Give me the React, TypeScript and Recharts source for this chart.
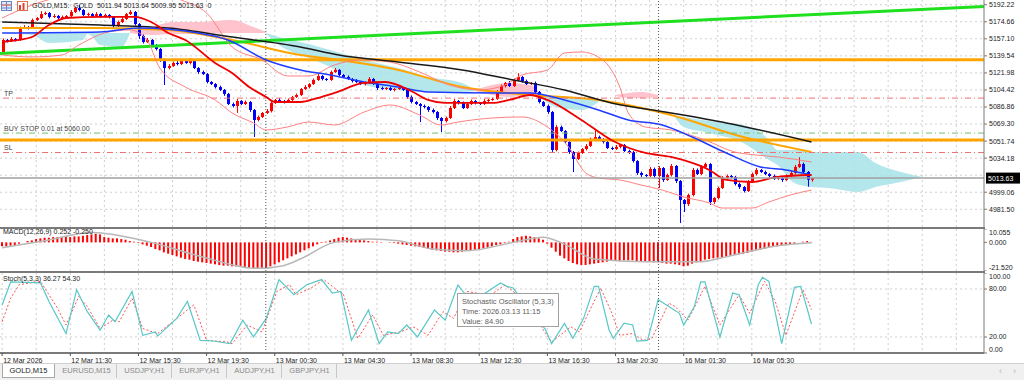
import React from 'react'
import { ComposedChart, Bar, Line, Area, XAxis, YAxis, CartesianGrid, ReferenceLine } from 'recharts'

const FONT = '"Liberation Sans", Arial, sans-serif'

// GOLD M15, bar 0 = first bar on screen
const firstOpen = 5143.5
const closes = [
  5155.9, 5154.8, 5156.9, 5155.9, 5168.2, 5169.2, 5168.2, 5176.5, 5178.5, 5182.6,
  5183.7, 5179.6, 5180.6, 5178.5, 5179.6, 5180.6, 5184.7, 5188.8, 5186.8, 5181.6,
  5182.6, 5180.6, 5182.6, 5179.6, 5181.6, 5179.6, 5170.3, 5174.4, 5177.5, 5182.6,
  5184.7, 5172.3, 5160.0, 5153.8, 5155.9, 5150.7, 5146.6, 5135.3, 5127.0, 5129.1,
  5132.2, 5131.1, 5134.2, 5132.2, 5135.3, 5127.0, 5122.9, 5120.8, 5112.6, 5110.5,
  5107.4, 5104.4, 5100.3, 5089.9, 5087.9, 5093.0, 5089.9, 5092.0, 5083.8, 5073.5,
  5076.6, 5080.7, 5082.7, 5091.0, 5094.1, 5093.0, 5092.0, 5094.1, 5097.2, 5099.2,
  5105.4, 5107.4, 5110.5, 5114.7, 5118.8, 5115.7, 5114.7, 5122.9, 5125.0, 5119.8,
  5117.8, 5115.7, 5113.6, 5112.6, 5110.5, 5111.6, 5115.7, 5110.5, 5106.4, 5105.4,
  5106.4, 5104.4, 5105.4, 5106.4, 5104.4, 5097.2, 5092.0, 5089.9, 5087.9, 5086.9,
  5083.8, 5081.7, 5075.5, 5072.4, 5075.5, 5085.8, 5093.0, 5091.0, 5085.8, 5089.9,
  5093.0, 5091.0, 5089.9, 5093.0, 5094.1, 5095.1, 5102.3, 5108.5, 5111.6, 5108.5,
  5114.7, 5117.8, 5113.6, 5110.5, 5111.6, 5102.3, 5092.0, 5087.9, 5081.7, 5042.6,
  5066.2, 5062.1, 5050.8, 5040.5, 5033.3, 5039.5, 5043.6, 5046.7, 5053.9, 5055.9,
  5053.9, 5050.8, 5044.6, 5043.6, 5045.7, 5047.7, 5041.5, 5040.5, 5031.2, 5018.9,
  5016.8, 5015.8, 5023.0, 5015.8, 5024.0, 5011.7, 5016.8, 5026.1, 5010.6, 4991.1,
  4986.9, 4996.2, 5022.0, 5017.8, 5025.1, 5028.1, 4989.0, 4993.1, 5003.4, 5013.7,
  5015.8, 5014.8, 5007.5, 5004.4, 5000.3, 5009.6, 5017.8, 5022.0, 5019.9, 5017.8,
  5015.8, 5012.7, 5013.7, 5011.7, 5015.8, 5018.9, 5025.1, 5028.1, 5019.9, 5011.94,
  5013.63,
]
// wick lengths above / below the body
const wickHi = [
  1.5, 1, 2, 1, 1.5, 2, 1, 1.5, 1, 3,
  1.5, 1, 2, 1, 1.5, 1, 2, 1.5, 3, 1,
  1.5, 1, 2, 1, 1.5, 1, 1, 1.5, 2, 1,
  2, 1, 1, 1.5, 2, 1, 1, 1, 1.5, 2,
  1.5, 2, 1, 1.5, 2, 1, 1, 1.5, 1, 1,
  1, 1.5, 1, 1, 1.5, 2, 1, 1.5, 1, 1,
  1.5, 1, 2, 1.5, 1, 2, 1, 1.5, 1, 1.5,
  1, 2, 1, 1.5, 2, 1, 1, 1.5, 2, 1,
  1, 1.5, 1, 2, 1, 1.5, 2, 1, 1, 1.5,
  1, 1.5, 1, 2, 1, 1, 1.5, 1, 1, 1.5,
  1, 1.5, 1, 1, 1.5, 2, 2, 1, 1.5, 1,
  1.5, 1, 1, 2, 1, 1.5, 2, 1.5, 1, 2,
  1.5, 4, 1, 1.5, 1, 1.5, 1, 1, 1.5, 1,
  2, 1.5, 1, 1, 1, 1.5, 1, 2, 1.5, 7,
  1.5, 1, 1, 1.5, 2, 1, 1, 1.5, 1, 1,
  1.5, 1, 2, 1.5, 2, 1, 1.5, 2, 1, 1,
  1, 1.5, 2, 1.5, 2, 1.5, 1, 1, 1.5, 2,
  1.5, 1, 1, 1.5, 1, 2, 1.5, 2, 1, 1.5,
  1, 1.5, 1, 1, 1.5, 2, 2, 7, 1.5, 1,
  0.01,
]
const wickLo = [
  2, 1.5, 1, 1.5, 1, 1, 1.5, 1, 1, 1,
  1, 1.5, 1, 1, 1.5, 1, 1, 1, 1.5, 1,
  1, 1.5, 1, 1, 1, 1.5, 2, 1, 1, 1,
  1, 1.5, 3, 1.5, 1, 2, 1.5, 2, 17.5, 1.5,
  1, 1.5, 1, 1, 1.5, 1, 2, 1, 1.5, 1,
  1.5, 1, 2, 1, 1.5, 7.2, 1, 1, 2, 17.5,
  1.5, 1, 1, 1.5, 1, 1, 1.5, 1, 1, 1,
  1, 1, 1.5, 1, 1, 1.5, 1, 1, 1, 1.5,
  1, 1, 1.5, 1, 1, 1.5, 1, 1, 2, 1,
  1, 1, 1.5, 1, 1, 2, 1.5, 1, 16.5, 1.5,
  2, 1.5, 2, 11.3, 1.5, 1, 1, 1.5, 1, 1,
  1, 1.5, 1, 1, 1.5, 1, 1, 1, 1.5, 1,
  1, 1, 1.5, 1, 1, 1.5, 1.5, 1, 2, 2,
  1.5, 1, 1.5, 2, 13.4, 1, 1, 1.5, 1, 1,
  1, 1.5, 1, 1, 1, 1.5, 1, 2, 1.5, 2,
  2, 1.5, 1, 2, 12.4, 2, 1, 1.5, 2, 23.7,
  8.2, 2, 1.5, 1, 1, 1.5, 3, 2, 1.5, 1,
  1, 1.5, 1.5, 2, 1.5, 1, 1, 1.5, 1, 1,
  1.5, 1, 1, 2, 1, 1, 1.5, 1, 1, 7.2,
  1.99,
]

// indicator lines, [bar, price]
const redMA = [[0, 5153.8], [4, 5155.9], [7, 5158.9], [11, 5171.3], [15, 5178.5], [23, 5179.6], [31, 5179.6], [35, 5174.4], [39, 5163.1], [43, 5155.9], [50, 5132.2], [54, 5121.9], [58, 5107.4], [62, 5097.2], [64, 5092.0], [70, 5092.0], [74, 5096.1], [78, 5101.3], [85, 5111.6], [90, 5112.6], [96, 5103.3], [100, 5094.1], [104, 5091.0], [115, 5091.0], [119, 5094.1], [124, 5099.2], [128, 5094.1], [136, 5073.5], [143, 5052.9], [151, 5039.5], [157, 5035.4], [162, 5029.2], [166, 5022.0], [170, 5011.7], [176, 5009.6], [182, 5014.8], [190, 5016.8]]
const blueMA = [[0, 5163.1], [23, 5164.1], [32, 5168.2], [46, 5163.1], [53, 5155.9], [62, 5135.3], [70, 5125.0], [77, 5119.8], [85, 5112.6], [93, 5107.4], [100, 5102.3], [117, 5101.3], [124, 5101.3], [132, 5094.1], [140, 5083.8], [147, 5073.5], [155, 5068.3], [162, 5055.9], [170, 5039.5], [178, 5025.1], [184, 5022.0], [190, 5016.8]]
const blackMA = [[0, 5174.4], [23, 5171.3], [39, 5168.2], [54, 5158.9], [70, 5148.7], [79, 5140.4], [93, 5133.2], [108, 5125.0], [120, 5114.7], [132, 5104.4], [143, 5091.0], [157, 5080.7], [170, 5070.4], [190, 5050.8]]
const orangeMA = [[0, 5168.2], [23, 5168.2], [39, 5166.2], [54, 5155.9], [70, 5140.4], [79, 5135.3], [93, 5125.0], [108, 5107.4], [124, 5099.2], [140, 5094.1], [157, 5078.6], [174, 5055.9], [190, 5040.5]]
const bandUpper = [[0, 5178.5], [7, 5191.9], [15, 5202.2], [25, 5212.5], [35, 5207.4], [42, 5197.1], [48, 5183.7], [54, 5148.7], [61, 5135.3], [67, 5118.8], [72, 5118.8], [78, 5130.1], [84, 5135.3], [91, 5133.2], [98, 5122.9], [105, 5109.5], [112, 5104.4], [118, 5109.5], [122, 5119.8], [128, 5124.9], [132, 5142.5], [136, 5143.5], [141, 5135.3], [145, 5107.4], [147, 5080.7], [151, 5066.3], [157, 5063.2], [165, 5052.9], [172, 5040.5], [177, 5037.4], [182, 5035.4], [190, 5030.2]]
const bandLower = [[0, 5140.4], [7, 5138.4], [14, 5140.4], [18, 5150.7], [25, 5164.1], [30, 5166.2], [34, 5155.9], [37, 5127.0], [43, 5107.4], [50, 5094.1], [54, 5080.7], [59, 5070.4], [62, 5063.2], [67, 5066.3], [72, 5071.4], [78, 5068.3], [85, 5081.7], [91, 5088.9], [98, 5078.6], [103, 5068.3], [107, 5071.4], [115, 5075.5], [122, 5076.6], [128, 5066.3], [133, 5045.6], [137, 5018.9], [140, 5013.7], [145, 5011.7], [150, 5006.5], [155, 5001.3], [160, 4994.2], [166, 4988.0], [169, 4982.8], [176, 4982.8], [180, 4989.0], [185, 4996.2], [190, 5001.3]]

// ichimoku cloud pieces, [bar, low, high]
const cloudCyan1 = [[4, 5162.1, 5163.1], [7, 5161.0, 5163.1], [11, 5152.8, 5163.1], [19, 5155.9, 5163.1], [20, 5162.1, 5163.1], [21, 5160.0, 5163.1], [23, 5150.7, 5163.1], [28, 5148.7, 5163.1], [30, 5162.6, 5163.1]]
const cloudPink1 = [[30, 5163.1, 5165.1], [35, 5161.0, 5169.2], [40, 5162.1, 5174.4], [46, 5162.1, 5174.4], [54, 5163.1, 5176.5], [59, 5163.1, 5169.2], [62, 5163.1, 5164.1]]
const cloudCyan2 = [[62, 5162.1, 5163.1], [65, 5150.7, 5158.9], [72, 5137.3, 5151.7], [77, 5128.1, 5145.6], [85, 5109.5, 5135.3], [93, 5104.4, 5127.0], [100, 5102.3, 5117.8], [108, 5102.3, 5111.6], [111, 5103.3, 5104.4]]
const cloudPink2 = [[111, 5103.3, 5104.4], [115, 5099.2, 5109.5], [119, 5097.2, 5111.6], [124, 5099.2, 5109.5], [126, 5099.2, 5102.3]]
const cloudCyan3 = [[126, 5097.2, 5099.2], [131, 5085.8, 5097.2], [136, 5083.8, 5097.2], [140, 5092.0, 5094.1]]
const cloudPink3 = [[144, 5098.2, 5099.2], [147, 5096.1, 5101.3], [150, 5096.1, 5102.3], [154, 5097.2, 5099.2]]
const cloudCyan4 = [[158, 5075.5, 5077.6], [160, 5066.2, 5076.6], [166, 5060.1, 5072.4], [174, 5049.8, 5068.3], [180, 5032.2, 5052.9], [182, 5027.2, 5042.6], [186, 5008.6, 5042.6], [190, 5004.4, 5040.5], [194, 5003.4, 5040.5], [201, 4999.3, 5040.5], [205, 5004.4, 5029.2], [211, 5009.6, 5019.9], [216, 5014.8, 5014.8]]

// objects on the chart
const trendStart = 5142.0
const trendEnd = 5190.4
const levelHigh = 5135.5
const levelLow = 5052.8
const tpPrice = 5096.0
const buyStop = 5060.0
const slPrice = 5040.0
const lastPrice = 5013.63

const macdHist = [
  -3, -3, -2.5, -2, -1, 0, 1, 1.5,
  2.5, 3, 3.5, 3.5, 4, 4, 4, 4.5,
  4, 4.5, 4.5, 5, 5.5, 6, 6.5, 6,
  4, 3.5, 3, 3, 2.5, 2, 1, 0.5,
  -0.5, -1.5, -2.5, -3.5, -5, -6, -7.5, -8.5,
  -9.5, -10.5, -11.5, -12.5, -13, -14, -14.5, -15,
  -15.5, -16, -16.5, -17, -17.5, -17.5, -18, -18,
  -18.5, -19, -19, -19.5, -20, -20, -19.5, -18,
  -16.5, -15, -13.5, -12, -10.5, -9, -7.5, -6,
  -4.5, -3, -1.5, -0.5, 0.5, 1.5, 2.5, 3.5,
  4, 3.5, 3, 2.5, 2, 1.5, 1, 0.5,
  0.5, 0.3, 0, -0.3, -0.5, -1, -1.5, -2,
  -2.5, -3, -3.5, -4, -5, -5.5, -6, -6.5,
  -7, -7, -7.5, -7.5, -7, -6.5, -6, -5.5,
  -5, -4.5, -4, -3, -2, -1.5, -0.5, 0.5,
  2.5, 4, 4.5, 5, 4.5, 4, 3, 2,
  -1, -4, -7, -10, -12, -14, -15.5, -16.5,
  -17, -17, -16.5, -16, -15.5, -15, -14.5, -14,
  -14, -14, -13.5, -13.5, -13.5, -14, -14, -14.5,
  -14.5, -15, -15, -15.5, -16, -16, -16.5, -17,
  -18, -17.5, -16, -15, -14, -13, -12.5, -12,
  -11.5, -11, -10.5, -10, -9.5, -9, -8.5, -8,
  -7, -6, -5.5, -5, -4, -3.5, -3, -2.5,
  -2, -1.5, -1, 0, 0.5, 1, 0.25,
]
const macdSignal = [[0, -4], [10, 1.2], [21, 7.5], [35, 0], [46, -10], [60, -19.5], [66, -17.5], [70, -12.5], [78, 0], [86, 2.5], [93, 1.2], [101, -5], [109, -6.3], [120, 0], [127, 3.8], [132, -1.3], [139, -12.5], [151, -14.5], [164, -14.5], [171, -10], [182, -2.5], [190, -0.25]]

const stochMain = [[0, 60], [2, 88.8], [9, 87.6], [11, 64.4], [15, 24.2], [17.5, 79.1], [20, 51.7], [23, 28.5], [25, 47.5], [26.5, 39.1], [30.5, 77], [33, 22.2], [36, 26.4], [36.5, 21.1], [41, 43.3], [43.5, 64.4], [46.5, 15.8], [49.5, 15], [53.5, 11.7], [56.5, 41.1], [59, 20.1], [62, 43.3], [65, 91.8], [68.5, 72.8], [71.5, 85.4], [75, 91.8], [77.5, 74.9], [79.5, 77], [82, 15.8], [86, 53.8], [88.5, 11.7], [90.5, 26.4], [93, 24.2], [95, 35], [97.5, 20.1], [101.5, 53.8], [104, 41.1], [107, 84.9], [108.5, 74.9], [112, 70], [117, 87.6], [118.5, 83.3], [120, 81.2], [124, 50], [127.5, 30], [129, 11.7], [132, 37], [134, 18.3], [136.5, 43.3], [139, 83.3], [140, 83.3], [142.5, 28.5], [143.5, 18.3], [146, 37.2], [148, 35.1], [149, 15], [151.5, 15.8], [154, 66.5], [156.5, 58.1], [159, 49.6], [160, 35], [162.5, 58], [164, 88.8], [165, 88.8], [168.5, 20.1], [171.5, 74.9], [173, 72.8], [175.5, 35], [177.5, 85.4], [178.5, 94.6], [180, 89.5], [183, 11.7], [186, 82], [187.5, 83.3], [190, 36.27]]
const stochSignal = [[0, 39], [2, 68.5], [4, 85.4], [9, 89.6], [13, 56], [15, 35], [18, 70.7], [20, 58.1], [23, 30.6], [26, 41.1], [27.5, 39.1], [30.5, 68.5], [33, 30.6], [36.5, 24.3], [43.5, 53.8], [45, 60.1], [48, 15.8], [53, 13.7], [54, 11.7], [57.5, 35], [61, 26.4], [64.5, 77], [67.5, 85.4], [69, 72.8], [72.5, 81.2], [75.5, 91.8], [79, 77], [80, 74.9], [83.5, 18.3], [87, 47.5], [89.5, 22.2], [93.5, 26.4], [96.5, 32.7], [100, 22.2], [103.5, 51.7], [106, 43.3], [109, 77], [114.5, 72], [118, 85], [120, 77], [126, 37], [129, 13.8], [133.5, 32.7], [135.5, 26.4], [140.5, 81.2], [143, 51.7], [145, 22.2], [148, 24.3], [150.5, 15.8], [152.5, 17.9], [156.5, 62.3], [158, 58.1], [161, 41.1], [165, 83.3], [168.5, 35], [173, 72.8], [175.5, 49.6], [179, 89.6], [181.5, 64.4], [184, 22.2], [188, 79.1], [190, 54.3]]

const priceTicks = [5192.22, 5174.66, 5157.10, 5139.54, 5121.98, 5104.42, 5086.86, 5069.30, 5051.74, 5034.18, 4999.06, 4981.50]
const priceGrid = [5192.22, 5174.66, 5157.10, 5139.54, 5121.98, 5104.42, 5086.86, 5069.30, 5051.74, 5034.18, 5016.62, 4999.06, 4981.50]
const timeTicks = [0, 16, 32, 48, 64, 80, 96, 112, 128, 144, 160, 176]
const timeLabels = ['12 Mar 2026', '12 Mar 11:30', '12 Mar 15:30', '12 Mar 19:30', '13 Mar 00:30', '13 Mar 04:30', '13 Mar 08:30', '13 Mar 12:30', '13 Mar 16:30', '13 Mar 20:30', '16 Mar 01:30', '16 Mar 05:30']
const separators = [61.9, 154.1]
const tabs = ['GOLD,M15', 'EURUSD,M15', 'USDJPY,H1', 'EURJPY,H1', 'AUDJPY,H1', 'GBPJPY,H1']

const X_DOMAIN: [number, number] = [-0.5, 230.5]
const gridX = Array.from({ length: 29 }, (_, k) => k * 8)
const M = { top: 0, right: 0, bottom: 0, left: 0 }

const candles = closes.map((c, i) => {
  const o = i === 0 ? firstOpen : closes[i - 1]
  const h = Math.max(o, c) + wickHi[i]
  const l = Math.min(o, c) - wickLo[i]
  return { i, o, c, h, l, range: [l, h] }
})
const macdData = macdHist.map((h, i) => ({ i, h }))
const pts = (a: number[][]) => a.map(([i, v]) => ({ i, v }))
const rng = (a: number[][]) => a.map(([i, lo, hi]) => ({ i, r: [lo, hi] }))

const Candle = (p: any) => {
  const { x, y, width, height, payload } = p
  if (x == null || y == null) return null
  const { o, c, h, l } = payload
  const k = h === l ? 0 : height / (h - l)
  const yo = y + (h - o) * k
  const yc = y + (h - c) * k
  const col = c >= o ? '#ff0000' : '#0000ff'
  const cx = Math.round(x + width / 2)
  const top = Math.min(yo, yc)
  const bh = Math.max(1, Math.abs(yo - yc))
  return (
    <g>
      <line x1={cx + 0.5} x2={cx + 0.5} y1={y} y2={y + height} stroke={col} strokeWidth={1} />
      <rect x={cx - 1} y={top} width={3} height={bh} fill={col} />
    </g>
  )
}

const sideTick = (digits: number, lo: number, hi: number) => (p: any) => {
  const v = p.payload.value
  const dy = v === hi ? 4 : v === lo ? -3 : 0
  return (
    <text x={p.x} y={p.y + dy} dy="0.35em" fontSize={7} fill="#222" fontFamily={FONT} textAnchor="start">
      {v.toFixed(digits)}
    </text>
  )
}

const TimeTick = (p: any) => {
  const idx = timeTicks.indexOf(p.payload.value)
  return (
    <text x={p.x + 1} y={p.y} dy={5.5} fontSize={7} fill="#222" fontFamily={FONT} textAnchor="start">
      {timeLabels[idx]}
    </text>
  )
}

const lineTag = (text: string) => (p: any) => (
  <text x={p.viewBox.x + 4} y={p.viewBox.y - 2} fontSize={7} fill="#444" fontFamily={FONT}>{text}</text>
)

const priceTag = (p: any) => {
  const vb = p.viewBox
  return (
    <g>
      <rect x={vb.x + vb.width + 2} y={vb.y - 5.5} width={34} height={11} fill="#000" />
      <text x={vb.x + vb.width + 4} y={vb.y} dy="0.35em" fontSize={7} fill="#fff" fontFamily={FONT}>{lastPrice.toFixed(2)}</text>
    </g>
  )
}

const axisProps = {
  orientation: 'right' as const,
  width: 40,
  type: 'number' as const,
  allowDataOverflow: true,
  interval: 0 as const,
  tickSize: 3,
  tickMargin: 2,
  axisLine: { stroke: '#7a7a7a' },
  tickLine: { stroke: '#7a7a7a' },
}

const sepLines = separators.map((x) => (
  <ReferenceLine key={x} x={x} stroke="#555" strokeDasharray="1 2" />
))

function MainPanel() {
  const area = (d: number[][], fill: string, key: string) => (
    <Area key={key} data={rng(d)} dataKey="r" type="monotone" stroke="none" fill={fill} fillOpacity={0.85}
      dot={false} activeDot={false} isAnimationActive={false} connectNulls />
  )
  const ma = (d: number[][], stroke: string, w: number, key: string) => (
    <Line key={key} data={pts(d)} dataKey="v" type="monotone" stroke={stroke} strokeWidth={w} dot={false} activeDot={false} isAnimationActive={false} />
  )
  return (
    <ComposedChart width={1024} height={227} data={candles} margin={M}>
      <XAxis dataKey="i" type="number" domain={X_DOMAIN} hide allowDataOverflow />
      <YAxis {...axisProps} domain={[4963.25, 5197.06]} ticks={priceTicks} tick={sideTick(2, 0, 0)} />
      <CartesianGrid stroke="#cfcfcf" strokeDasharray="2 3" verticalValues={gridX} horizontalValues={priceGrid} />
      {ma(orangeMA, '#ffa500', 2, 'orange')}
      {area(cloudCyan1, '#a6e3e8', 'c1')}
      {area(cloudPink1, '#ffb8c6', 'p1')}
      {area(cloudCyan2, '#a6e3e8', 'c2')}
      {area(cloudPink2, '#ffb8c6', 'p2')}
      {area(cloudCyan3, '#a6e3e8', 'c3')}
      {area(cloudPink3, '#ffb8c6', 'p3')}
      {area(cloudCyan4, '#a6e3e8', 'c4')}
      <ReferenceLine y={tpPrice} stroke="#f07070" strokeDasharray="6 3 1 3" label={lineTag('TP')} />
      <ReferenceLine y={buyStop} stroke="#70c070" strokeDasharray="6 3 1 3" label={lineTag('BUY STOP 0.01 at 5060.00')} />
      <ReferenceLine y={slPrice} stroke="#f07070" strokeDasharray="6 3 1 3" label={lineTag('SL')} />
      <ReferenceLine y={levelHigh} stroke="#ffa500" strokeWidth={3} />
      <ReferenceLine y={levelLow} stroke="#ffa500" strokeWidth={3} />
      <ReferenceLine segment={[{ x: -0.5, y: trendStart }, { x: 230.5, y: trendEnd }]} stroke="#1fe01f" strokeWidth={3} />
      {ma(bandUpper, '#ff8080', 1, 'bu')}
      {ma(bandLower, '#ff8080', 1, 'bl')}
      {ma(blackMA, '#1a1a1a', 1.5, 'black')}
      {ma(blueMA, '#1f3cff', 1.5, 'blue')}
      {ma(redMA, '#ee0000', 1.8, 'red')}
      <ReferenceLine y={lastPrice} stroke="#a0a0a0" strokeWidth={1.5} label={priceTag} />
      <Bar dataKey="range" barSize={3} shape={(p: any) => <Candle {...p} />} isAnimationActive={false} />
      {sepLines}
    </ComposedChart>
  )
}

function MacdPanel() {
  return (
    <ComposedChart width={1024} height={42} data={macdData} margin={M}>
      <XAxis dataKey="i" type="number" domain={X_DOMAIN} hide allowDataOverflow />
      <YAxis {...axisProps} domain={[-21.52, 10.055]} ticks={[10.055, 0, -21.52]} tick={sideTick(3, -21.52, 10.055)} />
      <CartesianGrid stroke="#cfcfcf" strokeDasharray="2 3" verticalValues={gridX} horizontal={false} />
      <Bar dataKey="h" barSize={2} fill="#ff0000" isAnimationActive={false} />
      <Line data={pts(macdSignal)} dataKey="v" type="monotone" stroke="#b8b8b8" strokeWidth={1.5} dot={false} activeDot={false} isAnimationActive={false} />
      {sepLines}
    </ComposedChart>
  )
}

function StochPanel() {
  return (
    <ComposedChart width={1024} height={94} margin={M}>
      <XAxis dataKey="i" type="number" domain={X_DOMAIN} allowDataOverflow ticks={timeTicks} interval={0} height={14}
        tick={TimeTick} tickSize={3} tickMargin={1} axisLine={{ stroke: '#7a7a7a', strokeWidth: 2 }} tickLine={{ stroke: '#555' }} />
      <YAxis {...axisProps} domain={[0, 100]} ticks={[100, 80, 20, 0]} tick={sideTick(2, 0, 100)} />
      <CartesianGrid stroke="#cfcfcf" strokeDasharray="2 3" verticalValues={gridX} horizontalValues={[80, 20]} />
      <Line data={pts(stochSignal)} dataKey="v" type="linear" stroke="#ff5050" strokeWidth={1} strokeDasharray="2 2" dot={false} activeDot={false} isAnimationActive={false} />
      <Line data={pts(stochMain)} dataKey="v" type="linear" stroke="#58c8c8" strokeWidth={1.2} dot={false} activeDot={false} isAnimationActive={false} />
      {sepLines}
    </ComposedChart>
  )
}

const abs = (left: number, top: number, extra: React.CSSProperties = {}): React.CSSProperties => ({ position: 'absolute', left, top, ...extra })
const label7: React.CSSProperties = { fontSize: 7, lineHeight: '9px', color: '#222', whiteSpace: 'pre' }

export default function App() {
  return (
    <div style={{ position: 'absolute', left: 0, top: 0, width: 1024, height: 380, background: '#fff', overflow: 'hidden', fontFamily: FONT }}>
      <div style={abs(0, 0)}><MainPanel /></div>
      <div style={abs(0, 229)}><MacdPanel /></div>
      <div style={abs(0, 273)}><StochPanel /></div>
      <div style={abs(0, 226.5, { width: 985, height: 2, background: '#7a7a7a' })} />
      <div style={abs(0, 271, { width: 985, height: 2, background: '#7a7a7a' })} />

      <svg style={abs(1, 1)} width={28} height={11}>
        <rect x={0.5} y={0.5} width={10} height={9} fill="#dfe8f6" stroke="#6b86c0" />
        <line x1={1} y1={4} x2={10} y2={4} stroke="#d33" />
        <line x1={1} y1={7} x2={10} y2={7} stroke="#6b86c0" />
        <line x1={5.5} y1={1} x2={5.5} y2={10} stroke="#6b86c0" />
        <rect x={16.5} y={0.5} width={10} height={9} fill="#fff" stroke="#e07050" />
        <rect x={18} y={4} width={2} height={5} fill="#e04030" />
        <rect x={21.5} y={2} width={2} height={7} fill="#e04030" />
      </svg>
      <div style={abs(32, 1, label7)}>{'GOLD,M15:  GOLD  5011.94 5013.64 5009.95 5013.63  0'}</div>
      <div style={abs(3, 227, label7)}>{'MACD(12,26,9) 0.252 -0.250'}</div>
      <div style={abs(3, 274, label7)}>{'Stoch(5,3,3) 36.27 54.30'}</div>

      <div style={abs(457, 293, { width: 102, height: 34, background: '#fff', border: '1px solid #a0a0a0', boxSizing: 'border-box', padding: '3px 0 0 4px', fontSize: 7.5, lineHeight: '10px', color: '#606060', whiteSpace: 'pre' })}>
        <div>Stochastic Oscillator (5,3,3)</div>
        <div>Time: 2026.03.13 11:15</div>
        <div>Value: 84.90</div>
      </div>

      <div style={abs(0, 363, { width: 1024, height: 17, background: '#f0f0f0', borderTop: '1px solid #d0d0d0' })}>
        {tabs.map((t, k) => {
          const lefts = [2, 57, 118, 173, 228, 283]
          const widths = [53, 60, 54, 54, 54, 54]
          const active = k === 0
          return (
            <div key={t} style={abs(lefts[k], 0, {
              width: widths[k], height: 14, boxSizing: 'border-box',
              background: active ? '#fff' : 'transparent',
              border: active ? '1px solid #a8a8a8' : 'none',
              borderTop: 'none',
              borderRight: active ? '1px solid #a8a8a8' : '1px solid #c8c8c8',
              fontSize: 7.5, lineHeight: '14px', textAlign: 'center',
              color: active ? '#222' : '#8a8a8a',
            })}>{t}</div>
          )
        })}
        <div style={abs(999, 2, { fontSize: 9, color: '#b0b0b0' })}>‹</div>
        <div style={abs(1013, 2, { fontSize: 9, color: '#b0b0b0' })}>›</div>
      </div>
    </div>
  )
}
